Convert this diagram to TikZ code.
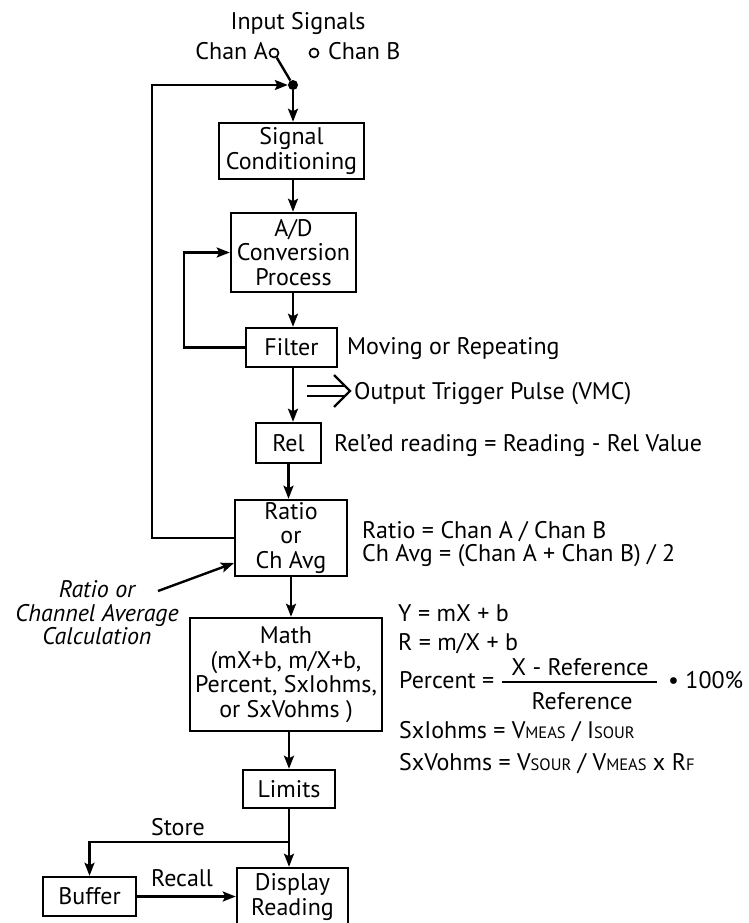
\documentclass[tikz,border=0pt]{standalone}
\usepackage{fontspec}
\setmainfont{PT Sans}
\usetikzlibrary{arrows.meta}
\newcommand{\smc}[1]{{\fontsize{16.5}{16.5}\selectfont #1}}
\begin{document}
\begin{tikzpicture}[x=1pt,y=-1pt,
  every node/.style={font=\fontsize{24}{24.5}\selectfont, inner sep=0pt},
  box/.style={draw, line width=2.5pt, align=center},
  conn/.style={line width=2.4pt},
  arr/.style={conn, -{Stealth[length=13pt,width=10pt,inset=2.5pt]}},
  txt/.style={anchor=base west},
]
\useasboundingbox (0,0) rectangle (748,923);

% boxes
\node[box, minimum width=145pt, minimum height=56pt] (sig) at (291.5,151) {Signal\\Conditioning};
\node[box, minimum width=125pt, minimum height=79pt] (ad) at (293.5,252.5) {A/D\\Conversion\\Process};
\node[box, minimum width=91pt, minimum height=39pt] (filt) at (291.5,347.5) {Filter};
\node[box, minimum width=65pt, minimum height=40pt] (rel) at (288.5,443) {Rel};
\node[box, minimum width=112pt, minimum height=76pt] (ratio) at (291,538) {Ratio\\or\\Ch Avg};
\node[box, minimum width=192pt, minimum height=113pt] (math) at (286,674.5) {Math\\(mX+b, m/X+b,\\Percent, SxIohms,\\or SxVohms )};
\node[box, minimum width=92pt, minimum height=38pt] (lim) at (289,789) {Limits};
\node[box, minimum width=93pt, minimum height=39pt] (buf) at (89.5,896.5) {Buffer};
\node[box, minimum width=111pt, minimum height=58pt] (disp) at (292.5,897) {Display\\Reading};

% input switch
\node[anchor=base] (inp) at (298,30) {Input Signals};
\node[circle, draw, line width=1.7pt, minimum size=9pt] (ca) at (274,53) {};
\node[circle, draw, line width=1.7pt, minimum size=9pt] (cb) at (314,53) {};
\node[anchor=base east] (cha) at (268,60) {Chan A};
\node[anchor=base west] (chb) at (328,60) {Chan B};
\node[circle, fill, minimum size=10pt] (dot) at (293,85) {};
\draw[conn] (ca) -- (dot);

% spine
\coordinate (sx) at (293,0);
\draw[arr] (dot) -- (dot |- sig.north);
\draw[arr] (sig.south -| sx) -- (ad.north -| sx);
\draw[arr] (ad.south -| sx) -- (filt.north -| sx);
\draw[arr] (filt.south -| sx) -- (rel.north -| sx);
\draw[arr] (rel.south) -- (rel.south |- ratio.north);
\draw[arr] (ratio.south) -- (ratio.south |- math.north);
\draw[arr] (math.south -| lim.north) -- (lim.north);
\draw[arr] (lim.south) -- (lim.south |- disp.north);

% feedback loops
\coordinate (fbl) at (152,0);
\draw[arr] (ratio.west) -- (ratio.west -| fbl) -- (fbl |- dot) -- (dot);
\coordinate (adl) at (184,0);
\draw[arr] (filt.west) -- (filt.west -| adl) -- (adl |- ad.west) -- (ad.west);

% store / recall
\coordinate (sy) at (0,842);
\draw[arr] (lim.south |- sy) -| (buf.north);
\node[anchor=base] (store) at (178,835) {Store};
\draw[arr] (buf.east) -- (buf.east -| disp.west);
\node[anchor=base] (recall) at (182,886) {Recall};

% italic label
\node[align=center, font=\fontsize{24}{23.5}\selectfont\itshape] (rlab) at (97,613) {Ratio or\\Channel Average\\Calculation};
\coordinate (rla) at (158,591);
\draw[arr] (rla) -- (234,563);

% output trigger double arrow
\coordinate (ota) at (307,386);
\coordinate (otb) at (307,396);
\draw[conn] (ota) -- (345,386);
\draw[conn] (otb) -- (345,396);
\draw[conn, line join=miter] (334,375) -- (350,391) -- (334,407);

% side texts
\node[txt] (t1) at (347,354) {Moving or Repeating};
\node[txt] (t2) at (354,399) {Output Trigger Pulse (VMC)};
\node[txt] (t3) at (334,451) {Rel’ed reading = Reading - Rel Value};
\node[txt] (t4) at (362,538) {Ratio = Chan A / Chan B};
\node[txt] (t5) at (362,561) {Ch Avg = (Chan A + Chan B) / 2};
\node[txt] (t6) at (398,621) {Y = mX + b};
\node[txt] (t7) at (398,650) {R = m/X + b};
\node[txt] (t8) at (399,688) {Percent =};
\node[anchor=base] (num) at (580,675) {X - Reference};
\draw[line width=1.8pt] (502,682) -- (657,682);
\node[anchor=base] (den) at (582,709) {Reference};
\node[txt] (t9) at (668,688) {• 100\%};
\node[txt] (t10) at (399,738) {SxIohms = V\smc{MEAS} / I\smc{SOUR}};
\node[txt] (t11) at (399,770) {SxVohms = V\smc{SOUR} / V\smc{MEAS} x R\smc{F}};
\end{tikzpicture}
\end{document}
